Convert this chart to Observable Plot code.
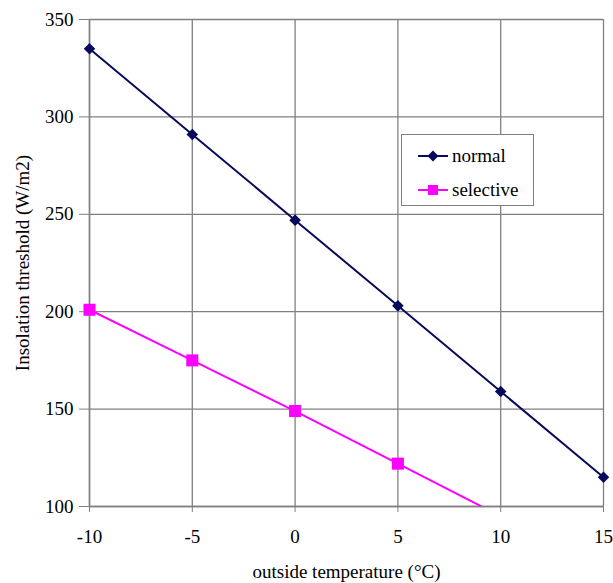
<!DOCTYPE html>
<html>
<head>
<meta charset="utf-8">
<script src="https://cdn.jsdelivr.net/npm/d3@7"></script>
<script src="https://cdn.jsdelivr.net/npm/@observablehq/plot@0.6"></script>
<style>
  html, body { margin: 0; padding: 0; background: #fff; }
  #wrap { position: relative; width: 613px; height: 583px; }
  #wrap svg text { font-family: "Liberation Serif", "Times New Roman", serif !important; font-size: 19px !important; }
  #legend {
    position: absolute; left: 401px; top: 134px; width: 131px; height: 70px;
    border: 1px solid #808080; background: #fff;
    font-family: "Liberation Serif", "Times New Roman", serif; font-size: 19px; color: #000;
  }
  .row { position: absolute; left: 15px; height: 20px; display: flex; align-items: center; }
  .row svg { margin-right: 3px; }
</style>
</head>
<body>
<div id="wrap"></div>
<script>
const temperatures = [-10, -5, 0, 5, 10, 15];
const normalValues = [335, 291, 247, 203, 159, 115];
const selectiveTemps = [-10, -5, 0, 5, 10];
const selectiveValues = [201, 175, 149, 122, 95];
const xTicks = [-10, -5, 0, 5, 10, 15];
const yTicks = [100, 150, 200, 250, 300, 350];
const seriesNames = ["normal", "selective"];
const seriesColors = ["#0a0a5c", "#ff00ff"];

const normal = temperatures.map((t, i) => ({t, v: normalValues[i]}));
const selective = selectiveTemps.map((t, i) => ({t, v: selectiveValues[i]}));
const yMin = yTicks[0];

const serif = "Liberation Serif, Times New Roman, serif";

const chart = Plot.plot({
  width: 613,
  height: 583,
  marginLeft: 89,
  marginRight: 10,
  marginTop: 19,
  marginBottom: 77,
  style: {background: "#fff", overflow: "visible", fontFamily: serif, fontSize: "19px"},
  x: {domain: [-10, 15]},
  y: {domain: [100, 350]},
  marks: [
    Plot.gridX(xTicks, {stroke: "#808080", strokeOpacity: 1, strokeWidth: 1.3}),
    Plot.gridY(yTicks, {stroke: "#808080", strokeOpacity: 1, strokeWidth: 1.3}),
    Plot.axisX({
      ticks: xTicks, tickSize: 6, tickPadding: 17, stroke: "#808080",
      tickFormat: d => String(d),
      fontSize: 19, fill: "#000",
      label: "outside temperature (°C)", labelAnchor: "center", labelOffset: 71, labelArrow: "none"
    }),
    Plot.axisY({
      ticks: yTicks, tickSize: 10, tickPadding: 6, stroke: "#808080",
      tickFormat: d => String(d),
      fontSize: 19, fill: "#000",
      label: "Insolation threshold (W/m2)", labelAnchor: "center", labelOffset: 74, labelArrow: "none"
    }),
    Plot.ruleX([-10], {stroke: "#808080", strokeWidth: 1.5}),
    Plot.ruleY([100], {stroke: "#808080", strokeWidth: 1.5}),
    Plot.line(selective, {x: "t", y: "v", stroke: seriesColors[1], strokeWidth: 2, clip: true}),
    Plot.dot(selective, {x: "t", y: "v", symbol: "square", r: 6.8, fill: seriesColors[1], filter: d => d.v >= yMin}),
    Plot.line(normal, {x: "t", y: "v", stroke: seriesColors[0], strokeWidth: 2}),
    Plot.dot(normal, {x: "t", y: "v", symbol: "diamond2", r: 5.2, fill: seriesColors[0]})
  ]
});

const wrap = document.getElementById("wrap");
wrap.appendChild(chart);

const legend = document.createElement("div");
legend.id = "legend";
const symbols = ["diamond", "square"];
seriesNames.forEach((name, i) => {
  const row = document.createElement("div");
  row.className = "row";
  row.style.top = (i === 0 ? 11 : 45) + "px";
  const sw = d3.create("svg").attr("width", 32).attr("height", 20);
  sw.append("line").attr("x1", 1).attr("x2", 31).attr("y1", 10).attr("y2", 10)
    .attr("stroke", seriesColors[i]).attr("stroke-width", 2);
  if (symbols[i] === "diamond") {
    sw.append("path").attr("d", "M16,4.5L21.5,10L16,15.5L10.5,10Z").attr("fill", seriesColors[i]);
  } else {
    sw.append("rect").attr("x", 11).attr("y", 5).attr("width", 10).attr("height", 10).attr("fill", seriesColors[i]);
  }
  row.appendChild(sw.node());
  const span = document.createElement("span");
  span.textContent = name;
  row.appendChild(span);
  legend.appendChild(row);
});
wrap.appendChild(legend);
</script>
</body>
</html>
